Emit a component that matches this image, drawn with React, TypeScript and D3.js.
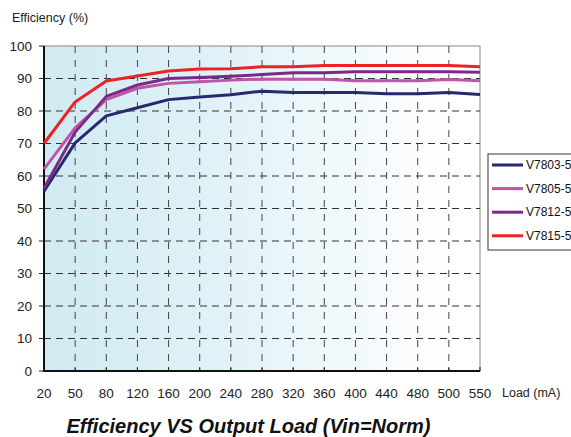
import React from "react";
import * as d3 from "d3";

const categories = ["20","50","80","120","160","200","240","280","320","360","400","440","480","500","550"];
const seriesNames = ["V7803-500R3", "V7805-500R3", "V7812-500R3", "V7815-500R3"];
const seriesColors = ["#27286e", "#c054a8", "#7a2a86", "#ee2124"];
const v7803 = [55.3, 70.2, 78.5, 81, 83.5, 84.3, 85, 86.1, 85.7, 85.7, 85.7, 85.3, 85.3, 85.7, 85.1];
const v7805 = [62.1, 74.8, 83.5, 87, 88.5, 89, 89.5, 89.8, 89.8, 89.8, 89.3, 89.3, 89.3, 89.7, 89.3];
const v7812 = [56.2, 73.5, 84.5, 88, 90, 90.3, 90.7, 91.2, 91.8, 91.8, 92.1, 92.1, 92.1, 92.1, 91.9];
const v7815 = [70.0, 82.8, 89.2, 90.8, 92.3, 92.9, 93.0, 93.6, 93.6, 94.0, 94.0, 94.0, 94.0, 94.0, 93.6];
const yTicks = [0, 10, 20, 30, 40, 50, 60, 70, 80, 90, 100];

export default function App() {
  const W = 571, H = 437;
  const left = 44, right = 480, top = 46, bottom = 371;
  const x = d3.scalePoint<string>().domain(categories).range([left, right]);
  const y = d3.scaleLinear().domain([0, 100]).range([bottom, top]);
  const all = [v7803, v7805, v7812, v7815];
  const line = d3.line<number>().x((_, i) => x(categories[i]) as number).y(d => y(d));
  const font = "Arial, 'Liberation Sans', sans-serif";
  return (
    <svg width={W} height={H} style={{ position: "absolute", left: 0, top: 0 }} fontFamily={font}>
      <defs>
        <linearGradient id="bg" x1="0" x2="1" y1="0" y2="0">
          <stop offset="0" stopColor="#d0eaf2" />
          <stop offset="0.45" stopColor="#e3f3f8" />
          <stop offset="0.85" stopColor="#fbfdfe" />
          <stop offset="1" stopColor="#ffffff" />
        </linearGradient>
      </defs>
      <rect x={left} y={top} width={right - left} height={bottom - top} fill="url(#bg)" stroke="#888" strokeWidth={1} />
      {yTicks.filter(t => t > 0 && t < 100).map(t => (
        <line key={"h" + t} x1={left} x2={right} y1={y(t)} y2={y(t)} stroke="#333" strokeWidth={1} strokeDasharray="7,5" />
      ))}
      {categories.slice(1, -1).map(c => (
        <line key={"v" + c} x1={x(c)} x2={x(c)} y1={top} y2={bottom} stroke="#444" strokeWidth={1} strokeDasharray="7,7" />
      ))}
      {yTicks.map(t => (
        <g key={"yt" + t}>
          <line x1={left - 5} x2={left} y1={y(t)} y2={y(t)} stroke="#222" />
          <text x={32} y={y(t)} dy="0.35em" textAnchor="end" fontSize={13.5} fill="#222">{t}</text>
        </g>
      ))}
      {categories.map(c => (
        <g key={"xt" + c}>
          <line x1={x(c)} x2={x(c)} y1={bottom} y2={bottom - 4} stroke="#222" />
          <text x={x(c)} y={398} textAnchor="middle" fontSize={13.5} fill="#222">{c}</text>
        </g>
      ))}
      <line x1={left} x2={left} y1={top} y2={bottom + 1} stroke="#111" strokeWidth={2} />
      <line x1={left - 1} x2={right} y1={bottom} y2={bottom} stroke="#111" strokeWidth={2} />
      {all.map((s, i) => (
        <path key={"s" + i} d={line(s) || ""} fill="none" stroke={seriesColors[i]} strokeWidth={3} strokeLinejoin="round" />
      ))}
      <text x={12} y={22} fontSize={12.5} fill="#222">Efficiency (%)</text>
      <text x={502} y={397} fontSize={12.5} fill="#222">Load (mA)</text>
      <text x={248.5} y={433} textAnchor="middle" fontSize={20} fontWeight="bold" fontStyle="italic" fill="#111">Efficiency VS Output Load (Vin=Norm)</text>
      <rect x={488} y={154} width={100} height={96} fill="#fff" stroke="#333" strokeWidth={1} />
      {seriesNames.map((n, i) => (
        <g key={"lg" + i}>
          <line x1={492} x2={523} y1={165 + i * 23.6} y2={165 + i * 23.6} stroke={seriesColors[i]} strokeWidth={3} />
          <text x={526} y={165 + i * 23.6} dy="0.35em" fontSize={12} fill="#111">{n}</text>
        </g>
      ))}
    </svg>
  );
}
